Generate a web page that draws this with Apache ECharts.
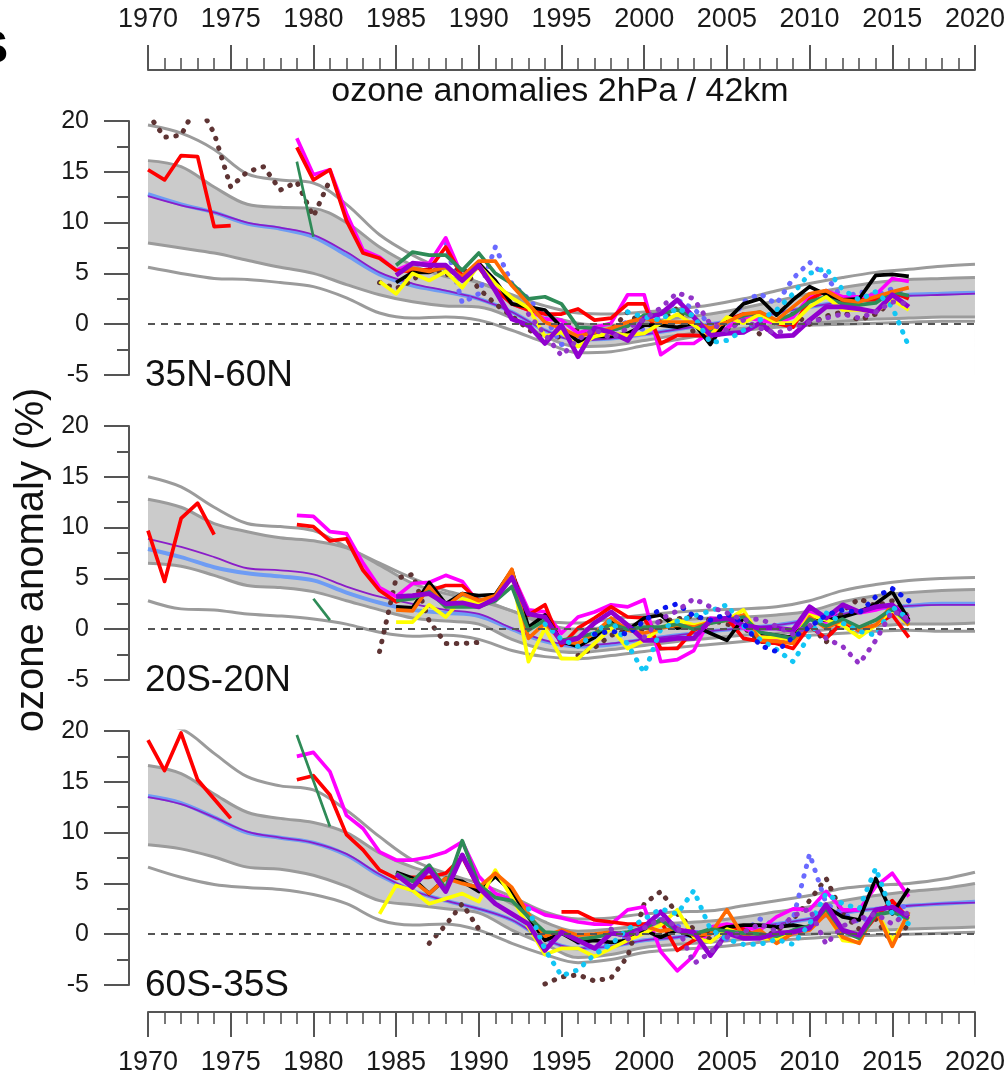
<!DOCTYPE html>
<html>
<head>
<meta charset="utf-8">
<script src="https://cdn.jsdelivr.net/npm/echarts@6/dist/echarts.min.js"></script>
<style>
    html, body { margin: 0; padding: 0; background: #fff; }
    #chart { width: 1008px; height: 1080px; }
</style>
</head>
<body>
<div id="chart"></div>
<script>
/////// data

// model envelope, read every 2 years
const modelYears = [1970, 1972, 1974, 1976, 1978, 1980, 1982, 1984, 1986, 1988, 1990, 1992, 1994,
    1996, 1998, 2000, 2002, 2004, 2006, 2008, 2010, 2012, 2014, 2016, 2018, 2020];

// 35N-60N
const p1OuterHi = [19.6, 18.8, 17.2, 14.8, 14.2, 13.9, 11.8, 8.8, 6.8, 5.3, 4.1, 2.9, 1.8, 1.1, 1.0, 1.2, 1.5, 1.9, 2.5, 3.3, 4.0, 4.6, 5.1, 5.4, 5.7, 5.9];
const p1BandHi = [16.1, 15.5, 13.5, 11.8, 11.5, 11.4, 10.0, 7.6, 5.8, 4.7, 4.1, 2.8, 1.0, 0.1, -0.1, 0.2, 0.6, 1.0, 1.6, 2.3, 3.0, 3.6, 4.1, 4.4, 4.5, 4.6];
const p1BandLo = [8.0, 7.5, 7.0, 6.3, 5.6, 5.0, 3.9, 2.9, 2.2, 1.8, 1.7, 0.6, -1.2, -2.2, -2.1, -1.6, -1.1, -0.7, -0.4, -0.1, 0.1, 0.3, 0.5, 0.6, 0.7, 0.7];
const p1OuterLo = [5.6, 5.0, 4.5, 4.4, 4.1, 3.7, 2.6, 1.1, 0.6, 0.7, 0.4, -0.6, -1.8, -2.8, -2.7, -2.1, -1.5, -1.0, -0.6, -0.3, -0.1, 0.0, 0.1, 0.2, 0.3, 0.3];
const p1Mean = [12.8, 11.8, 11.0, 9.9, 9.4, 8.6, 6.8, 4.9, 3.8, 3.2, 2.5, 1.2, -0.6, -1.5, -1.4, -1.0, -0.5, 0.0, 0.5, 1.1, 1.7, 2.2, 2.6, 2.9, 3.0, 3.1];
const p1MeanB = [12.6, 11.7, 11.0, 10.0, 9.5, 8.8, 7.1, 5.1, 4.0, 3.3, 2.5, 1.2, -0.6, -1.6, -1.4, -1.0, -0.5, 0.0, 0.5, 1.1, 1.7, 2.2, 2.6, 2.8, 2.9, 3.0];

// 20S-20N
const p2OuterHi = [15.0, 14.0, 12.0, 10.4, 10.1, 9.7, 8.1, 6.5, 5.0, 3.8, 3.0, 1.8, 0.8, 0.6, 1.0, 1.4, 1.7, 1.9, 2.0, 2.2, 2.8, 3.8, 4.4, 4.8, 5.0, 5.1];
const p2BandHi = [12.8, 12.0, 10.4, 9.6, 9.0, 8.7, 8.0, 6.3, 4.5, 3.5, 2.8, 1.8, 0.5, 0.0, 0.2, 0.6, 0.9, 1.1, 1.2, 1.4, 1.8, 2.7, 3.3, 3.6, 3.8, 3.9];
const p2BandLo = [6.5, 6.2, 5.3, 4.3, 4.1, 3.7, 2.8, 1.9, 1.1, 0.8, 0.5, -1.0, -2.0, -2.3, -2.0, -1.6, -1.2, -0.9, -0.6, -0.4, -0.2, 0.1, 0.3, 0.5, 0.5, 0.6];
const p2OuterLo = [2.8, 2.0, 1.9, 1.5, 1.3, 1.0, 0.5, -0.3, -0.7, -0.6, -1.0, -2.1, -2.7, -2.9, -2.6, -2.2, -1.8, -1.5, -1.2, -0.9, -0.6, -0.4, -0.2, -0.1, -0.2, -0.2];
const p2Mean = [7.9, 7.1, 6.1, 5.5, 5.2, 4.8, 3.6, 2.6, 1.9, 1.6, 1.3, 0.0, -1.2, -1.7, -1.5, -1.0, -0.6, -0.2, 0.1, 0.4, 0.9, 1.5, 2.0, 2.3, 2.5, 2.5];
const p2MeanB = [8.9, 8.1, 7.1, 6.0, 5.8, 5.4, 4.2, 3.2, 2.5, 1.9, 1.5, 0.1, -1.1, -1.6, -1.4, -1.0, -0.6, -0.2, 0.1, 0.4, 0.9, 1.5, 2.0, 2.3, 2.4, 2.4];

// 60S-35S
const p3OuterHi = [20.6, 20.2, 17.8, 15.5, 14.6, 14.2, 12.2, 9.6, 7.3, 6.0, 5.0, 3.7, 2.2, 1.5, 1.6, 2.0, 2.2, 2.3, 2.8, 3.3, 3.8, 4.5, 4.8, 5.0, 5.4, 6.1];
const p3BandHi = [16.6, 15.8, 13.8, 12.0, 11.4, 11.0, 10.0, 8.0, 6.6, 5.7, 4.6, 3.0, 1.2, 0.3, 0.5, 0.9, 1.1, 1.3, 1.7, 2.2, 2.7, 3.3, 3.8, 4.2, 4.5, 5.0];
const p3BandLo = [8.8, 8.4, 7.6, 6.6, 6.4, 5.8, 4.7, 3.3, 2.9, 2.5, 2.1, 0.4, -1.0, -2.3, -2.0, -1.3, -1.0, -0.8, -0.5, -0.2, 0.0, 0.2, 0.4, 0.5, 0.6, 0.7];
const p3OuterLo = [6.6, 5.6, 4.9, 4.6, 4.4, 3.9, 3.0, 1.4, 0.9, 1.0, 0.4, -0.9, -2.0, -2.8, -2.5, -1.8, -1.5, -1.3, -1.0, -0.6, -0.4, -0.2, -0.1, 0.0, 0.1, 0.2];
const p3Mean = [13.6, 12.9, 11.5, 10.0, 9.5, 9.0, 7.8, 5.8, 4.3, 3.3, 2.5, 1.4, -0.5, -1.4, -1.2, -0.6, -0.3, 0.2, 0.6, 1.0, 1.5, 2.1, 2.5, 2.8, 3.0, 3.2];
const p3MeanB = [13.5, 12.8, 11.5, 10.1, 9.5, 9.0, 7.9, 5.9, 4.3, 3.3, 2.5, 1.4, -0.5, -1.4, -1.2, -0.6, -0.3, 0.2, 0.6, 1.0, 1.5, 2.1, 2.5, 2.8, 3.0, 3.1];

// observations, yearly values from the start year in the comment
// 35N-60N
const p1RedEarly = [15.2, 14.2, 16.6, 16.5, 9.6, 9.7];                 // 1970
const p1Red = [17.4, 14.2, 15.2, 10.2, 7.0, 6.5, 5.3, 5.2, 5.4, 7.6, 4.7, 5.6, 3.4, 2.0, 1.4, 1.0, 1.0, 1.5, 0.4, 0.6,
    2.0, 2.0, -1.9, -1.1, -1.1, -1.2, 0.4, 1.0, 1.0, 0.1, -0.3, 2.4, 3.3, 2.0, 2.4, 2.4, 3.2, 2.5];  // 1979
const p1Magenta = [18.3, 14.7, 15.2, 10.9, 7.3, 6.6, 5.3, 6.0, 6.0, 8.5, 4.7, 6.0, 4.0, 2.0, 1.4, 0.5, 0.4, -0.9, -0.3, 0.1,
    2.9, 2.9, -3.0, -1.9, -1.9, -0.8, -0.4, 0.7, 0.4, 0.1, 0.7, 2.7, 3.3, 2.7, 2.7, 2.9, 4.5, 4.2];  // 1979
const p1GreenEarly = [16.0, 8.6];                                      // 1979
const p1Green = [5.8, 7.1, 6.8, 6.8, 5.3, 7.0, 5.0, 4.0, 2.5, 2.7, 2.0, -0.3, -0.4, -0.6, -0.2, 0.9, 1.0, 1.4, 0.7, -0.8,
    0.3, 0.8, 1.2, 0.3, 1.0, 2.2, 2.7, 2.0, 1.9, 2.1, 3.2, 2.8];       // 1985
const p1Black = [4.1, 5.1, 5.1, 5.8, 4.3, 6.0, 4.3, 2.0, 1.7, 1.4, -0.3, -1.7, -1.2, -1.2, -0.9, -0.1, -0.1, -0.3, 0.1, -2.0,
    0.4, 2.0, 2.5, 0.9, 2.4, 3.7, 2.9, 2.4, 2.5, 4.8, 4.9, 4.7];       // 1985
const p1Yellow = [4.2, 3.0, 5.0, 4.3, 5.2, 3.6, 5.8, 4.0, 2.6, 1.6, -1.2, -0.8, -2.2, -1.2, -0.9, -1.1, -0.9, 0.1, 1.0, -0.1,
    -1.1, 0.7, 0.1, 1.0, 0.1, 0.1, 1.7, 2.7, 1.4, 1.4, 1.2, 2.4, 1.4];  // 1984
const p1Orange = [5.0, 5.5, 5.2, 5.6, 4.7, 6.2, 6.2, 3.8, 2.0, 0.2, -0.4, -1.2, -0.8, -0.4, 0.2, 0.6, 0.2, 0.2, 0.2, -0.4,
    0.2, 1.0, 1.2, 0.4, 1.7, 3.0, 3.3, 2.4, 2.2, 2.7, 3.2, 3.6];       // 1985
const p1Purple = [4.8, 6.0, 5.8, 5.8, 4.3, 5.8, 3.3, 0.5, -0.1, -1.9, -0.1, -3.2, -0.4, -0.8, -1.6, 0.6, 1.0, 2.4, 0.7, -1.1,
    -0.9, -0.8, 0.1, -1.2, -1.1, 0.4, 1.7, 1.7, 1.5, 1.2, 2.9, 1.7];   // 1985
const p1BrownEarly = [20.7, 18.4, 18.6, 21.7, 18.8, 13.5, 15.0, 15.5, 13.2, 14.0, 10.6, 14.2];  // 1970
const p1Brown = [4.1, 3.5, 4.3, 5.8, 4.8, 5.6, 3.5, 2.0, 0.8, -0.5, -1.5, -1.2, -0.5, -1.0, -0.6, 1.2, -0.3, 0.2, 1.6, -0.8,
    -1.5, -0.5, 0.5, -1.0, 0.3, 1.0, 0.0, 0.8, 1.2, 0.4, 1.0, 2.2, 2.0];  // 1984
const p1Lavender = [8.0, 2.1, 3.0, 7.6, 4.0, 2.5, 0.7, -2.0, -1.5, -0.5, -0.8, 0.3, -0.6, 0.8, 2.4, 1.5, 0.0, -0.5, 2.2, 3.0,
    2.0, 4.5, 6.1, 4.7, 2.5, 3.2, 2.8, 3.5, 3.0];                      // 1988
const p1Cyan = [1.2, 0.7, 0.4, 1.6, 0.8, -1.8, -1.6, -0.6, 0.4, 1.4, 3.0, 5.0, 5.5, 3.4, 2.4, 3.2, 1.7, -2.2];  // 1999
const p1PurpleDots = [1.0, -1.0, -3.1, -1.5, -0.5, -1.4, -0.4, 0.5, 1.6, 3.1, 2.5, 0.0, -0.6, 0.4, -0.4, -0.9, -0.3, 0.2,
    0.6, 1.0, 0.6, 1.2, 2.2, 2.0];                                     // 1993

// 20S-20N
const p2RedEarly = [9.7, 4.7, 10.9, 12.4, 9.3];                        // 1970
const p2Red = [10.3, 10.1, 8.7, 8.9, 5.8, 3.8, 2.7, 3.3, 3.8, 4.3, 4.3, 2.8, 3.1, 5.5, 1.4, 2.4, -1.6, 0.1, 1.1, 2.2,
    1.2, 1.1, -1.9, -1.9, -0.1, 0.6, 1.1, -0.9, -1.2, -1.4, -1.9, 0.3, -0.9, 0.7, -0.1, 0.4, 1.4, -0.8];  // 1979
const p2Magenta = [11.2, 11.1, 9.6, 9.4, 6.5, 4.1, 3.2, 4.5, 4.6, 5.3, 4.7, 2.5, 2.8, 5.5, 1.9, 1.7, -0.4, 1.2, 1.7, 2.4,
    2.2, 2.9, -3.2, -3.0, -2.1, 1.1, 0.9, 0.1, -0.5, -1.1, -0.6, 1.7, 0.7, 2.4, 1.6, 1.9, 2.4, 1.2];   // 1979
const p2GreenEarly = [3.0, 0.9];                                       // 1980
const p2Green = [2.8, 3.0, 3.7, 2.2, 2.2, 2.2, 2.8, 4.2, -0.1, 0.9, -1.1, -0.8, -0.4, 0.5, 0.0, 0.2, 0.2, 0.5, 0.0, 0.6,
    0.9, 1.2, -0.3, -0.6, -0.9, 1.0, 0.3, 1.0, 0.2, 0.9, 2.0, 0.6];    // 1985
const p2Black = [2.2, 2.1, 4.6, 2.5, 3.5, 3.3, 3.4, 5.8, 0.2, 1.4, -1.2, -1.7, -0.8, 0.7, -0.1, 1.1, 1.4, 0.1, 0.4, -0.4,
    -1.1, 1.1, -0.4, -0.6, -0.8, 1.1, 0.9, 1.2, 1.7, 2.5, 3.7, 0.9];   // 1985
const p2Orange = [1.9, 1.8, 4.2, 2.2, 3.5, 2.8, 3.3, 5.9, -0.9, 0.6, -1.2, -1.4, -0.4, 1.1, -0.1, -0.4, 0.1, 0.4, 0.2, 0.7,
    0.9, 1.4, -1.1, -1.2, -1.4, 1.2, 0.1, 0.9, -0.1, 0.4, 2.4, 0.4];   // 1985
const p2Yellow = [0.7, 0.7, 2.4, 1.2, 3.0, 2.6, 3.2, 5.5, -3.2, 0.1, -2.9, -2.9, -1.4, 0.1, -1.9, -1.1, 0.1, 0.9, 0.4, 0.7,
    0.9, 1.9, -0.8, -0.8, -1.1, 1.4, 0.9, 0.4, -0.8, 0.4, 1.9, 0.4];   // 1985
const p2Purple = [3.2, 3.3, 3.5, 2.5, 2.6, 2.2, 3.0, 5.1, 1.5, 1.2, -1.3, -0.9, 0.6, 1.7, 0.4, -1.1, -1.1, -0.9, -0.9, 0.9,
    1.1, 0.4, 0.1, 0.1, -0.1, 2.2, 1.1, 2.4, 1.7, 2.2, 2.4, 0.7];      // 1985
const p2BrownEarly = [-2.2, 5.0, 5.4, 0.8, -1.4, -1.4, -1.3];          // 1984
const p2Brown = [-2.6, -1.8, -0.6, -0.1, 0.0, 0.8, 1.0, 1.3, 0.9, 0.5, 0.2, -1.2, -1.3, -1.2, 0.5, -1.3, 1.8, 3.0, 2.3,
    2.8, 1.2];                                                         // 1996
const p2Cyan = [0.5, -1.0, -1.7, -0.4, 0.9, -1.5, -4.3, 0.0, 0.8, 1.3, 1.8, 2.4, 0.3, -1.0, -2.0, -3.2, -0.6, 1.6, 0.6,
    -0.2, -0.6, 2.2, 1.0];                                             // 1994
const p2Blue = [-0.5, -0.2, -0.5, 0.8, 2.0, 2.5, 1.3, 0.9, 1.5, 0.6, -1.6, -2.2, -0.8, 0.2, 1.4, 1.9, 1.6, 3.2, 4.0, 2.8];  // 1997
const p2PurpleDots = [-0.8, 1.0, 1.8, 3.0, 2.2, 1.6, 0.9, 1.0, 0.3, -0.5, 0.4, -0.9, -1.7, -3.4, -1.1, 1.8, 1.0];  // 2000

// 60S-35S
const p3RedEarly = [19.1, 16.1, 19.8, 15.2, 13.3, 11.4];               // 1970
const p3RedMid = [15.2, 15.6, 13.7, 9.8, 8.3, 6.3, 5.5, 5.6, 5.6, 6.0, 7.6, 4.5];  // 1979
const p3Red = [2.2, 2.2, 1.4, 1.2, 1.0, 1.0, 1.3, -1.6, -0.6, 0.3, 0.7, 0.5, -0.3, -0.6, 0.3, 0.8, 2.4, 0.3, -0.3, 1.7,
    3.3, 1.5];                                                         // 1995
const p3Magenta = [17.5, 17.9, 16.0, 11.7, 10.4, 8.1, 7.3, 7.3, 7.6, 8.1, 9.1, 5.7, 4.0, 3.4, 2.7, 1.9, 1.6, 1.2, 1.0, 1.0,
    2.4, 2.7, -1.7, -3.6, -2.1, 0.7, 1.0, 0.7, 0.4, 1.7, 2.5, 2.4, 4.2, 2.4, 2.4, 4.7, 6.0, 3.7];   // 1979
const p3GreenEarly = [19.6, 15.1, 10.6];                               // 1979
const p3Green = [6.0, 5.2, 6.8, 4.5, 9.2, 4.9, 3.6, 3.3, 1.7, 0.2, 0.1, -0.5, -0.3, 0.0, 0.2, 0.6, 1.4, 0.3, 0.0, 0.5,
    0.3, 0.1, 0.0, -0.2, 0.4, 0.8, 2.5, 0.3, -0.4, 1.9, 2.2, 1.5];     // 1985
const p3Black = [6.1, 5.5, 4.0, 5.5, 5.2, 4.2, 5.7, 4.2, 1.7, -0.6, 0.1, -0.8, -0.6, -0.8, -0.6, 0.4, -0.3, 0.4, -0.3, 0.1,
    0.7, 0.9, 0.9, 0.7, 0.9, 0.6, 2.7, 1.7, 1.4, 5.5, 2.0, 4.5];       // 1985
const p3Orange = [5.6, 5.3, 4.0, 5.5, 5.0, 4.6, 6.0, 4.6, 2.0, -0.2, 0.4, -0.1, 0.0, 0.2, -0.2, 0.8, 0.3, 0.6, -0.1, 0.0,
    2.4, -0.2, 0.4, -0.9, 0.1, 0.4, 2.0, -0.3, -0.9, 2.4, -1.2, 2.2];  // 1985
const p3Yellow = [2.0, 4.8, 4.3, 3.0, 3.5, 4.0, 3.2, 6.3, 3.6, 0.7, -2.0, -1.4, -1.4, -2.2, -1.4, -0.6, 0.1, 0.9, 2.4, -0.3,
    -0.8, 0.5, 0.0, -0.4, -0.5, 0.2, 0.5, 2.2, -0.6, -0.8, 2.4, -0.6, 1.8];  // 1984
const p3Purple = [5.9, 4.6, 6.4, 4.2, 7.8, 4.6, 3.0, 2.0, 1.0, -1.6, 0.2, -0.6, -1.4, 0.1, -0.1, 0.7, 2.2, 0.4, 0.2, -2.1,
    0.1, -0.4, -0.4, 0.1, 0.2, 0.6, 2.9, 0.4, -0.1, 2.4, 2.7, 1.7];    // 1985
const p3BrownEarly = [-0.9, 0.9, 3.0, 0.5];                            // 1987
const p3Brown = [-4.9, -4.2, -4.0, -4.6, -4.3, -2.2, 3.0, 4.2, 2.0, 0.5, -0.5, 0.3, 0.8, -0.4, 0.3, 1.5, 3.3, 5.5, 2.0,
    0.5, 1.5, -0.9, 1.0];                                              // 1994
const p3Lavender = [-0.8, -1.5, -1.0, -0.3, 0.5, 1.5, 0.8, 0.2, 0.0, -0.5, 0.2, 1.5, 0.8, 1.5, 7.9, 3.0, 2.0, 1.2, 2.0,
    2.5, 2.8];                                                         // 1996
const p3Cyan = [2.5, -1.5, -4.1, -3.5, -2.0, -1.0, 0.5, 1.5, 2.5, 2.0, 4.3, 0.5, -0.5, -1.0, -1.0, -0.5, -1.0, 1.0, 4.0,
    3.0, 2.5, 6.5, 2.0, 1.0];                                          // 1993
const p3PurpleDots = [0.5, -0.5, 0.6, 1.5, 0.8, -2.9, -1.8, -0.3, 0.2, 1.0, 0.3, 1.8, 2.5, -1.0, 0.8, 1.5, 2.0, 1.0, 2.2];  // 1998

const yTicks = [-5, 0, 5, 10, 15, 20];
const panelNames = ['35N-60N', '20S-20N', '60S-35S'];

/////// helpers

const FONT = '"Liberation Sans", Arial, sans-serif';
const gridTops = [121, 426, 731];

function byYear(start, vals) {
    return vals.map((v, i) => [start + i, v]);
}

function byModelYear(vals) {
    return vals.map((v, i) => [modelYears[i], v]);
}

function obsLine(p, start, vals, color, width) {
    return {
        type: 'line', xAxisIndex: p, yAxisIndex: p,
        data: byYear(start, vals),
        symbol: 'none', silent: true,
        lineStyle: { color: color, width: width, join: 'round' }
    };
}

function dotLine(p, start, vals, color) {
    return {
        type: 'line', xAxisIndex: p, yAxisIndex: p,
        data: byYear(start, vals),
        symbol: 'none', silent: true,
        lineStyle: { color: color, width: 5, type: [0.5, 9.5], cap: 'round' }
    };
}

function modelLine(p, vals, color, width) {
    return {
        type: 'line', xAxisIndex: p, yAxisIndex: p,
        data: byModelYear(vals),
        smooth: 0.35, symbol: 'none', silent: true,
        lineStyle: { color: color, width: width }
    };
}

// grey band: fill under the upper edge, then white under the lower edge
function bandFill(p, vals, color) {
    return {
        type: 'line', xAxisIndex: p, yAxisIndex: p,
        data: byModelYear(vals),
        smooth: 0.35, symbol: 'none', silent: true,
        lineStyle: { width: 0, opacity: 0 },
        areaStyle: { color: color, opacity: 1, origin: 'start' }
    };
}

function panel(p, m, o) {
    let s = [];
    s.push(bandFill(p, m.bandHi, '#cbcbcb'));
    s.push(bandFill(p, m.bandLo, '#ffffff'));
    s.push(modelLine(p, m.outerHi, '#9b9b9b', 3));
    s.push(modelLine(p, m.bandHi, '#9b9b9b', 3));
    s.push(modelLine(p, m.bandLo, '#9b9b9b', 3));
    let lo = modelLine(p, m.outerLo, '#9b9b9b', 3);
    lo.markLine = {
        silent: true, symbol: 'none', label: { show: false },
        lineStyle: { color: '#555', width: 2, type: [7, 6] },
        data: [{ yAxis: 0 }]
    };
    s.push(lo);
    s.push(modelLine(p, m.mean, '#6e9cf4', 4));
    s.push(modelLine(p, m.meanB, '#8a1dc9', 1.8));
    o.forEach(function (d) {
        if (d[3]) s.push(dotLine(p, d[0], d[1], d[2]));
        else s.push(obsLine(p, d[0], d[1], d[2], d[4] || 3.7));
    });
    return s;
}

/////// series

const BROWN = '#5e3434', LAV = '#6a6aff', CYAN = '#12c6f5', PDOT = '#9233c8', DBLUE = '#0a14f0';
const RED = '#ff0000', MAG = '#ff00ff', GRN = '#2e8b57', BLK = '#000000', YEL = '#ffff00', ORG = '#ff6a00', PUR = '#9100cf';

let series = [];
series = series.concat(panel(0,
    { outerHi: p1OuterHi, bandHi: p1BandHi, bandLo: p1BandLo, outerLo: p1OuterLo, mean: p1Mean, meanB: p1MeanB },
    [
        [1970, p1BrownEarly, BROWN, true], [1984, p1Brown, BROWN, true],
        [1988, p1Lavender, LAV, true],
        [1979, p1GreenEarly, GRN, false, 2.7],
        [1970, p1RedEarly, RED, false], [1979, p1Magenta, MAG, false], [1979, p1Red, RED, false],
        [1985, p1Green, GRN, false], [1985, p1Black, BLK, false], [1984, p1Yellow, YEL, false],
        [1985, p1Orange, ORG, false], [1985, p1Purple, PUR, false, 4.8],
        [1999, p1Cyan, CYAN, true], [1993, p1PurpleDots, PDOT, true]
    ]));
series = series.concat(panel(1,
    { outerHi: p2OuterHi, bandHi: p2BandHi, bandLo: p2BandLo, outerLo: p2OuterLo, mean: p2Mean, meanB: p2MeanB },
    [
        [1984, p2BrownEarly, BROWN, true], [1996, p2Brown, BROWN, true],
        [1980, p2GreenEarly, GRN, false, 2.7],
        [1970, p2RedEarly, RED, false], [1979, p2Magenta, MAG, false], [1979, p2Red, RED, false],
        [1985, p2Black, BLK, false], [1985, p2Yellow, YEL, false], [1985, p2Orange, ORG, false],
        [1985, p2Green, GRN, false], [1985, p2Purple, PUR, false, 4.8],
        [1994, p2Cyan, CYAN, true], [1997, p2Blue, DBLUE, true], [2000, p2PurpleDots, PDOT, true]
    ]));
series = series.concat(panel(2,
    { outerHi: p3OuterHi, bandHi: p3BandHi, bandLo: p3BandLo, outerLo: p3OuterLo, mean: p3Mean, meanB: p3MeanB },
    [
        [1987, p3BrownEarly, BROWN, true], [1994, p3Brown, BROWN, true],
        [1996, p3Lavender, LAV, true],
        [1970, p3RedEarly, RED, false], [1979, p3Magenta, MAG, false], [1979, p3RedMid, RED, false],
        [1995, p3Red, RED, false], [1979, p3GreenEarly, GRN, false, 2.7],
        [1985, p3Black, BLK, false], [1984, p3Yellow, YEL, false], [1985, p3Orange, ORG, false],
        [1985, p3Green, GRN, false], [1985, p3Purple, PUR, false, 4.8],
        [1993, p3Cyan, CYAN, true], [1998, p3PurpleDots, PDOT, true]
    ]));

/////// axes

const grids = gridTops.map(t => ({ left: 148, right: 33, top: t, height: 254 }));

const xAxes = [0, 1, 2].map(p => ({
    type: 'value', gridIndex: p, min: 1970, max: 2020, interval: 5,
    show: p !== 1,
    position: p === 0 ? 'top' : 'bottom',
    offset: p === 0 ? 51 : 27,
    axisLine: { show: true, onZero: false, lineStyle: { color: '#555', width: 2 } },
    axisTick: { show: true, length: 25, lineStyle: { color: '#555', width: 2 } },
    minorTick: { show: true, splitNumber: 5, length: 12, lineStyle: { color: '#555', width: 1.6 } },
    splitLine: { show: false },
    axisLabel: { fontSize: 27, color: '#1a1a1a', margin: 37, fontFamily: FONT, formatter: v => String(v) }
}));

const yAxes = [0, 1, 2].map(p => ({
    type: 'value', gridIndex: p, min: yTicks[0], max: yTicks[yTicks.length - 1], interval: 5, offset: 19,
    axisLine: { show: true, lineStyle: { color: '#555', width: 2 } },
    axisTick: { show: true, length: 25, lineStyle: { color: '#555', width: 2 } },
    minorTick: { show: true, splitNumber: 2, length: 12, lineStyle: { color: '#555', width: 2 } },
    splitLine: { show: false },
    axisLabel: { fontSize: 25, color: '#1a1a1a', margin: 40, fontFamily: FONT }
}));

/////// texts

const graphics = [
    { type: 'text', z: 100, x: 560, y: 92, style: { text: 'ozone anomalies 2hPa / 42km', font: '34px ' + FONT, fill: '#111', textAlign: 'center', textVerticalAlign: 'middle' } },
    { type: 'text', z: 100, x: 32, y: 560, rotation: Math.PI / 2, style: { text: 'ozone anomaly (%)', font: '40px ' + FONT, fill: '#111', textAlign: 'center', textVerticalAlign: 'middle' } },
    { type: 'text', z: 100, x: 8, y: 50, style: { text: 'S', font: 'bold 47px ' + FONT, fill: '#000', textAlign: 'right', textVerticalAlign: 'middle' } }
];
[376, 681, 986].forEach(function (y, i) {
    graphics.push({ type: 'text', z: 100, x: 145, y: y, style: { text: panelNames[i], font: '37px ' + FONT, fill: '#111', textAlign: 'left', textVerticalAlign: 'middle' } });
});

/////// chart

var dom = document.getElementById('chart');
var myChart = echarts.init(dom, null, { renderer: 'canvas' });

var option = {
    backgroundColor: '#ffffff',
    animation: false,
    textStyle: { fontFamily: FONT },
    grid: grids,
    xAxis: xAxes,
    yAxis: yAxes,
    graphic: graphics,
    series: series
};

myChart.setOption(option);
window.addEventListener('resize', myChart.resize);
</script>
</body>
</html>
